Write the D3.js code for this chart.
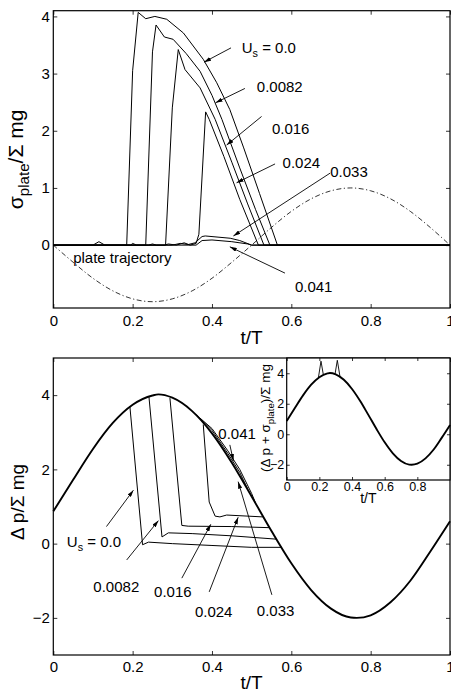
<!DOCTYPE html>
<html><head><meta charset="utf-8">
<script src="https://cdn.jsdelivr.net/npm/d3@7/dist/d3.min.js"></script>
<style>
html,body{margin:0;padding:0;background:#fff;}
svg{display:block;font-family:"Liberation Sans",Arial,Helvetica,sans-serif;}
path{stroke-linejoin:round;}
</style></head><body>
<svg id="c" width="451" height="692"></svg>
<script>
// ---------------- DATA ----------------
const xTickVals = [0, 0.2, 0.4, 0.6, 0.8, 1];
const insetXTickVals = [0, 0.2, 0.4, 0.6, 0.8];
const topYTickVals = [0, 1, 2, 3, 4];
const botYTickVals = [-2, 0, 2, 4];
const usLabels = ["0.0", "0.0082", "0.016", "0.024", "0.033", "0.041"];

// top panel: sigma_plate / Σmg  ([t/T, value])
const sigmaUs0 = [[0,0],[0.1,0],[0.115,0.06],[0.13,0],[0.185,0],[0.2,3.05],[0.214,4.07],[0.233,3.96],[0.256,4.0],[0.286,3.95],[0.328,3.71],[0.378,3.25],[0.412,2.84],[0.445,2.37],[0.48,1.7],[0.52,0.9],[0.565,0],[1,0]];
const sigmaUs1 = [[0,0],[0.195,0],[0.2,0.03],[0.21,0],[0.233,0],[0.25,3.38],[0.259,3.85],[0.28,3.64],[0.302,3.6],[0.335,3.35],[0.37,3.04],[0.4,2.62],[0.425,2.2],[0.47,1.35],[0.51,0.62],[0.546,0],[1,0]];
const sigmaUs2 = [[0,0],[0.24,0],[0.25,0.02],[0.26,0],[0.283,0],[0.3,2.4],[0.315,3.42],[0.332,3.07],[0.37,2.75],[0.408,2.2],[0.45,1.45],[0.49,0.72],[0.531,0],[1,0]];
const sigmaUs3 = [[0,0],[0.28,0],[0.29,0.02],[0.31,0],[0.33,0.04],[0.345,0],[0.36,0.03],[0.367,0.19],[0.384,2.33],[0.393,2.2],[0.43,1.55],[0.47,0.8],[0.517,0],[1,0]];
const sigmaUs4 = [[0,0],[0.3,0],[0.32,0.03],[0.34,0.01],[0.357,0.04],[0.375,0.15],[0.383,0.16],[0.446,0.12],[0.47,0.08],[0.5,0],[1,0]];
const sigmaUs5 = [[0,0],[0.36,0],[0.375,0.08],[0.4,0.09],[0.45,0.06],[0.49,0.02],[0.5,0],[1,0]];
const plateTrajectory = [[0,0],[0.05,-0.3],[0.1,-0.58],[0.15,-0.8],[0.2,-0.94],[0.25,-0.99],[0.3,-0.94],[0.35,-0.8],[0.4,-0.58],[0.45,-0.3],[0.5,0],[0.55,0.31],[0.6,0.59],[0.65,0.81],[0.7,0.95],[0.75,1.0],[0.8,0.95],[0.85,0.81],[0.9,0.59],[0.95,0.31],[1,0]];

// bottom panel: Δp / Σmg common envelope and departures for each U_s
const dpEnvelope = [[0,0.87],[0.05,1.72],[0.1,2.55],[0.15,3.25],[0.2,3.74],[0.25,3.99],[0.265,4.02],[0.3,3.93],[0.35,3.57],[0.4,2.97],[0.45,2.18],[0.5,1.27],[0.55,0.34],[0.6,-0.53],[0.65,-1.25],[0.7,-1.75],[0.75,-1.99],[0.765,-2.0],[0.8,-1.93],[0.85,-1.58],[0.9,-1.0],[0.95,-0.22],[1,0.6]];
const dpUs0 = [[0.193,3.70],[0.225,-0.03],[0.24,0.04],[0.3,0.0],[0.4,-0.05],[0.5,-0.1],[0.576,-0.1]];
const dpUs1 = [[0.241,3.97],[0.274,0.18],[0.29,0.29],[0.35,0.27],[0.45,0.21],[0.563,0.12]];
const dpUs2 = [[0.294,3.92],[0.324,0.49],[0.34,0.47],[0.45,0.46],[0.545,0.43]];
const dpUs3 = [[0.378,3.21],[0.393,1.12],[0.408,0.74],[0.42,0.72],[0.437,0.77],[0.528,0.72]];
const dpUs4 = [[0.36,3.48],[0.4,3.05],[0.44,2.43],[0.47,1.92],[0.49,1.47]];
const dpUs5 = [[0.37,3.38],[0.4,3.1],[0.44,2.5],[0.47,2.0],[0.5,1.35],[0.51,1.09]];

// inset: (Δp + σ_plate) / Σmg
const totalBase = [[0,0.87],[0.05,1.72],[0.1,2.55],[0.15,3.25],[0.2,3.74],[0.25,3.99],[0.265,4.02],[0.3,3.93],[0.35,3.57],[0.4,2.97],[0.45,2.18],[0.5,1.27],[0.55,0.34],[0.6,-0.53],[0.65,-1.25],[0.7,-1.75],[0.75,-1.99],[0.765,-2.0],[0.8,-1.93],[0.85,-1.58],[0.9,-1.0],[0.95,-0.22],[1,0.6]];
const totalSpike1 = [[0.194,3.7],[0.21,4.79],[0.224,3.93]];
const totalSpike2 = [[0.296,3.94],[0.31,4.85],[0.326,3.8]];

// ---------------- DRAW ----------------
const svg = d3.select("#c");
const FONT = 15;

svg.append("defs").append("marker")
  .attr("id","ah").attr("viewBox","0 0 10 6").attr("refX",10).attr("refY",3)
  .attr("markerWidth",7).attr("markerHeight",4.2).attr("orient","auto")
  .attr("markerUnits","userSpaceOnUse")
  .append("path").attr("d","M0,0L10,3L0,6Z").attr("fill","#000");

const fmtX = d => String(d);
const fmtY = d => d < 0 ? "\u2212" + Math.abs(d) : String(d);

function axes(g, x, y, xt, yt, o) {
  const [x0, x1] = x.range(), [yb, yt0] = y.range();
  const ax = [
    g.append("g").attr("transform",`translate(0,${yb})`)
      .call(d3.axisBottom(x).tickValues(xt).tickSize(-o.tick).tickPadding(o.padX).tickFormat(o.xfmt)),
    g.append("g").attr("transform",`translate(0,${yt0})`)
      .call(d3.axisTop(x).tickValues(o.xTopTicks || xt).tickSize(-o.tick).tickFormat("")),
    g.append("g").attr("transform",`translate(${x0},0)`)
      .call(d3.axisLeft(y).tickValues(yt).tickSize(-o.tick).tickPadding(o.padY).tickFormat(o.yfmt)),
    g.append("g").attr("transform",`translate(${x1},0)`)
      .call(d3.axisRight(y).tickValues(yt).tickSize(-o.tick).tickFormat(""))
  ];
  ax.forEach(a => {
    a.attr("font-family", null).attr("font-size", o.fs);
    a.select(".domain").remove();
    a.selectAll("line").attr("stroke","#000").attr("stroke-width",0.8);
    a.selectAll("text").attr("fill","#000");
  });
  g.append("rect").attr("x",x0).attr("y",yt0).attr("width",x1-x0).attr("height",yb-yt0)
    .attr("fill","none").attr("stroke","#000").attr("stroke-width",1.2);
}

function lineOf(x, y, curve) {
  return d3.line().x(d => x(d[0])).y(d => y(d[1])).curve(curve || d3.curveMonotoneX);
}

function textSub(g, x, y, parts, fs, anchor) {
  const t = g.append("text").attr("x", x).attr("y", y).attr("font-size", fs)
    .attr("text-anchor", anchor || "start").attr("fill", "#000");
  parts.forEach((p, i) => {
    if (typeof p === "string") {
      const prevSub = i > 0 && typeof parts[i-1] !== "string";
      t.append("tspan").attr("dy", prevSub ? -0.28*fs : 0).text(p);
    } else {
      t.append("tspan").attr("font-size", fs*0.72).attr("dy", 0.28*fs).text(p.sub);
    }
  });
  return t;
}

function arrow(g, x, y, from, to) {
  g.append("line").attr("x1", x(from[0])).attr("y1", y(from[1]))
    .attr("x2", x(to[0])).attr("y2", y(to[1]))
    .attr("stroke","#000").attr("stroke-width",0.9).attr("marker-end","url(#ah)");
}

// ===== TOP PANEL =====
const xT = d3.scaleLinear().domain([0,1]).range([53.3,450]);
const yT = d3.scaleLinear().domain([-1.1,4.1]).range([308,10.7]);
const gT = svg.append("g");

gT.append("path").datum(plateTrajectory).attr("d", lineOf(xT,yT,d3.curveCardinal))
  .attr("fill","none").attr("stroke","#000").attr("stroke-width",0.8)
  .attr("stroke-dasharray","5,2.5,1.2,2.5");

[sigmaUs0, sigmaUs1, sigmaUs2, sigmaUs3, sigmaUs4, sigmaUs5].forEach(s => {
  gT.append("path").datum(s).attr("d", lineOf(xT,yT,d3.curveLinear))
    .attr("fill","none").attr("stroke","#000").attr("stroke-width",1);
});

axes(gT, xT, yT, xTickVals, topYTickVals, {tick:4, padX:7, padY:3.5, fs:FONT, xfmt:fmtX, yfmt:fmtY});

const topAnn = [
  {lab: usLabels[0], pos:[0.475,3.36], from:[0.448,3.45], to:[0.380,3.20]},
  {lab: usLabels[1], pos:[0.513,2.67], from:[0.483,2.74], to:[0.409,2.49]},
  {lab: usLabels[2], pos:[0.551,1.94], from:[0.525,2.25], to:[0.437,1.75]},
  {lab: usLabels[3], pos:[0.578,1.35], from:[0.559,1.42], to:[0.462,1.09]},
  {lab: usLabels[4], pos:[0.698,1.20], from:[0.698,1.26], to:[0.454,0.16]},
  {lab: usLabels[5], pos:[0.609,-0.82], from:[0.584,-0.49], to:[0.445,-0.03]}
];
topAnn.forEach((a,i) => {
  const parts = i === 0 ? ["U", {sub:"s"}, " = " + a.lab] : [a.lab];
  textSub(gT, xT(a.pos[0]), yT(a.pos[1]), parts, FONT);
  arrow(gT, xT, yT, a.from, a.to);
});
gT.append("text").attr("x", xT(0.05)).attr("y", yT(-0.31)).attr("font-size", FONT)
  .attr("fill","#000").text("plate trajectory");

gT.append("text").attr("x", xT(0.5)).attr("y", 344).attr("text-anchor","middle")
  .attr("font-size",19).text("t/T");
const ylT = gT.append("g").attr("transform",`translate(23,${(yT.range()[0]+yT.range()[1])/2}) rotate(-90)`);
textSub(ylT, 0, 0, ["\u03C3", {sub:"plate"}, "/\u03A3 mg"], 21, "middle");

// ===== BOTTOM PANEL =====
const xB = d3.scaleLinear().domain([0,1]).range([53.3,450]);
const yB = d3.scaleLinear().domain([-3,5]).range([655,358]);
const gB = svg.append("g");

gB.append("path").datum(dpEnvelope).attr("d", lineOf(xB,yB))
  .attr("fill","none").attr("stroke","#000").attr("stroke-width",1.9);
[dpUs0, dpUs1, dpUs2, dpUs3, dpUs4, dpUs5].forEach(s => {
  gB.append("path").datum(s).attr("d", lineOf(xB,yB,d3.curveLinear))
    .attr("fill","none").attr("stroke","#000").attr("stroke-width",1);
});

axes(gB, xB, yB, xTickVals, botYTickVals, {tick:4, padX:6.5, padY:3.5, fs:FONT, xfmt:fmtX, yfmt:fmtY});

const botAnn = [
  {lab: usLabels[0], pos:[0.034,-0.09], from:[0.134,0.46], to:[0.202,1.44]},
  {lab: usLabels[1], pos:[0.101,-1.30], from:[0.185,-0.44], to:[0.265,0.62]},
  {lab: usLabels[2], pos:[0.254,-1.44], from:[0.324,-0.93], to:[0.397,0.52]},
  {lab: usLabels[3], pos:[0.357,-1.98], from:[0.393,-1.30], to:[0.466,0.71]},
  {lab: usLabels[4], pos:[0.513,-1.94], from:[0.551,-1.38], to:[0.466,1.67]},
  {lab: usLabels[5], pos:[0.416,2.82], from:[0.445,2.66], to:[0.454,2.23]}
];
botAnn.forEach((a,i) => {
  const parts = i === 0 ? ["U", {sub:"s"}, " = " + a.lab] : [a.lab];
  textSub(gB, xB(a.pos[0]), yB(a.pos[1]), parts, FONT);
  arrow(gB, xB, yB, a.from, a.to);
});

gB.append("text").attr("x", xB(0.5)).attr("y", 689).attr("text-anchor","middle")
  .attr("font-size",19).text("t/T");
const ylB = gB.append("g").attr("transform",`translate(23.5,502) rotate(-90)`);
textSub(ylB, 0, 0, ["\u0394 p/\u03A3 mg"], 19, "middle");

// ===== INSET =====
const xI = d3.scaleLinear().domain([0,1]).range([286.7,450]);
const yI = d3.scaleLinear().domain([-3,5]).range([480,358]);
const gI = svg.append("g");
gI.append("rect").attr("x",286.7).attr("y",358).attr("width",163.3).attr("height",122).attr("fill","#fff");
gI.append("path").datum(totalBase).attr("d", lineOf(xI,yI))
  .attr("fill","none").attr("stroke","#000").attr("stroke-width",1.9);
[totalSpike1, totalSpike2].forEach(s => {
  gI.append("path").datum(s).attr("d", lineOf(xI,yI,d3.curveLinear))
    .attr("fill","none").attr("stroke","#000").attr("stroke-width",0.9);
});
axes(gI, xI, yI, insetXTickVals, botYTickVals, {tick:3, padX:2.5, padY:2.5, fs:12.5, xfmt:fmtX, yfmt:fmtY, xTopTicks:insetXTickVals});
gI.append("text").attr("x", xI(0.5)).attr("y", 503).attr("text-anchor","middle")
  .attr("font-size",14).text("t/T");
const ylI = gI.append("g").attr("transform",`translate(270,418) rotate(-90)`);
textSub(ylI, 0, 0, ["(\u0394 p + \u03C3", {sub:"plate"}, ")/\u03A3 mg"], 13.5, "middle");
</script>
</body></html>
